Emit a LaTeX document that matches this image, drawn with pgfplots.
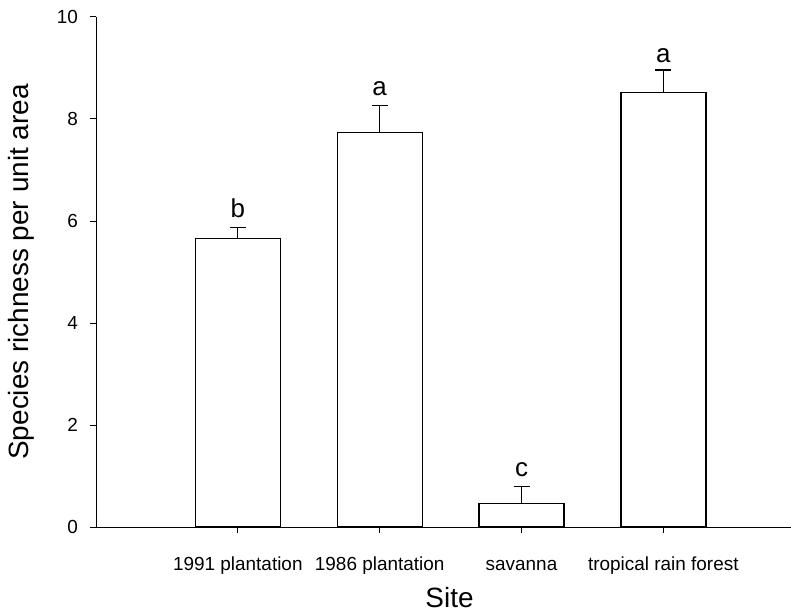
\documentclass[border=0pt]{standalone}
\usepackage{pgfplots}
\pgfplotsset{compat=1.18}
\usepackage{fontspec}
\setmainfont{Liberation Sans}
\begin{document}
\begin{tikzpicture}
\begin{axis}[
  name=ax,
  scale only axis,
  width=695bp, height=510bp,
  xmin=0, xmax=4.9,
  ymin=0, ymax=10,
  axis x line*=bottom,
  axis y line*=left,
  axis line style={line width=1pt},
  tick align=outside,
  major tick length=6bp,
  tick style={line width=1pt, black},
  xtick={1,2,3,4},
  xticklabels={1991 plantation,1986 plantation,savanna,tropical rain forest},
  ytick={0,2,4,6,8,10},
  /pgf/number format/assume math mode=true,
  ticklabel style={font=\fontsize{19}{22}\selectfont},
  xticklabel style={anchor=base, yshift=-37bp},
  yticklabel style={xshift=-8.5bp},
  xlabel={Site},
  ylabel={Species richness per unit area},
  label style={font=\fontsize{28}{32}\selectfont},
  xlabel style={at={(axis description cs:0.5086,-0.1588)}, anchor=base},
  ylabel style={at={(axis description cs:-0.0964,0.5)}, anchor=base},
  clip=false,
]
\addplot[ybar, bar width=85bp, fill=white, draw=black, line width=1.3pt,
  error bars/.cd, y dir=plus, y explicit,
  error bar style={line width=1.2pt, black},
  error mark options={rotate=90, mark size=8bp, line width=1.2pt}]
  coordinates {
    (1,5.65) +- (0,0.22)
    (2,7.74) +- (0,0.53)
    (3,0.46) +- (0,0.33)
    (4,8.52) +- (0,0.44)
  };
\node[anchor=base, font=\fontsize{26}{30}\selectfont, inner sep=0pt, yshift=10bp] at (axis cs:1,5.87) {b};
\node[anchor=base, font=\fontsize{26}{30}\selectfont, inner sep=0pt, yshift=10bp] at (axis cs:2,8.27) {a};
\node[anchor=base, font=\fontsize{26}{30}\selectfont, inner sep=0pt, yshift=10bp] at (axis cs:3,0.79) {c};
\node[anchor=base, font=\fontsize{26}{30}\selectfont, inner sep=0pt, yshift=8bp] at (axis cs:4,8.96) {a};
\end{axis}
\pgfresetboundingbox
\path[use as bounding box] ([xshift=-96bp,yshift=-86bp]ax.south west) rectangle ([yshift=17bp]ax.north east);
\end{tikzpicture}
\end{document}
